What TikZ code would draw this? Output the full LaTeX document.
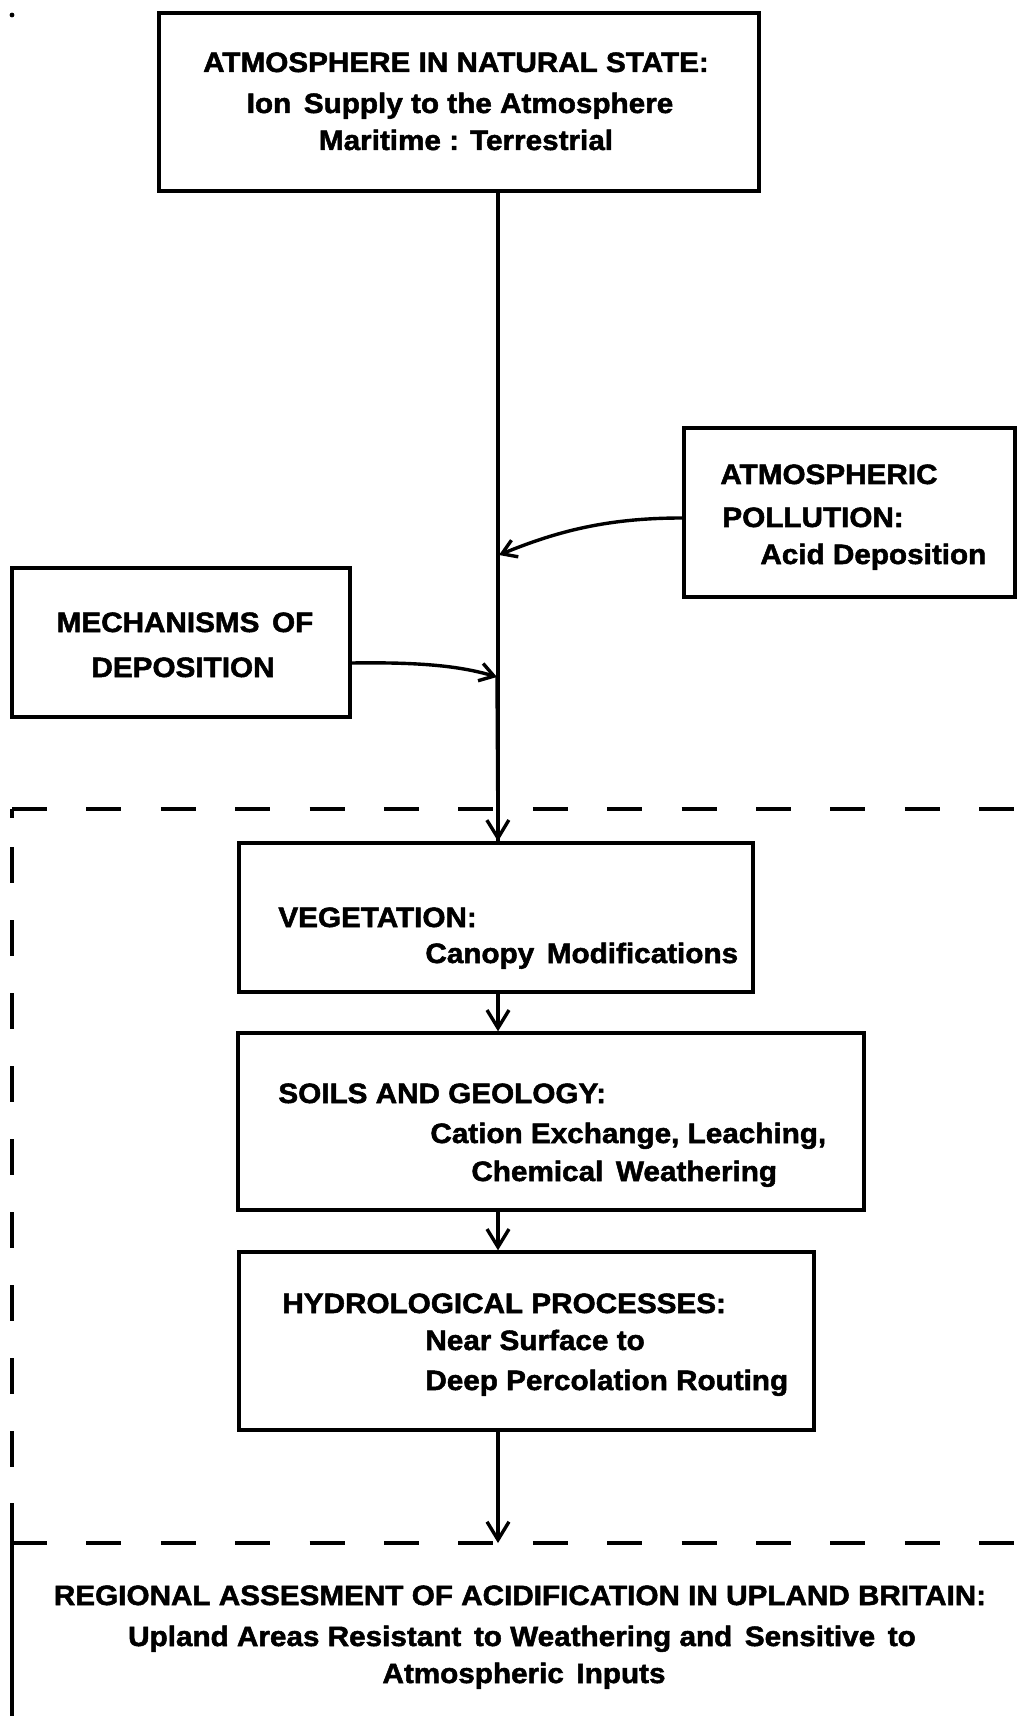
\documentclass[tikz,border=0pt]{standalone}
\usepackage{fontspec}
\newfontfamily\diagfont{Liberation Sans}[FakeStretch=1.06,FakeBold=1.8]
\usetikzlibrary{arrows.meta}
\newcommand{\wsp}{\hspace{0.45em}}
\begin{document}
\begin{tikzpicture}[x=0.5pt,y=-0.5pt,
  box/.style={draw, line width=1.7pt, inner sep=0pt},
  txt/.style={font={\diagfont\bfseries\fontsize{14pt}{16pt}\selectfont}, inner sep=0pt},
  lt/.style={txt, anchor=base west},
  ct/.style={txt, anchor=base},
  arrv/.style={line width=1.7pt, -{Straight Barb[length=9pt,width=11pt,line width=1.7pt]}},
  arrs/.style={line width=1.7pt, -{Straight Barb[length=7pt,width=9pt,line width=1.7pt]}},
  frame/.style={line width=1.7pt},
  dashes/.style={frame, dash pattern=on 17.5pt off 19.7pt}]
\useasboundingbox (0,0) rectangle (1017,1716);
\fill[white] (0,0) rectangle (1017,1716);
% speck
\fill (12,15) circle (1.2pt);
% boxes
\node[box, minimum width=300pt, minimum height=89pt] (top) at (459,102) {};
\node[box, minimum width=165.5pt, minimum height=84.5pt] (poll) at (849.5,512.5) {};
\node[box, minimum width=169pt, minimum height=74.5pt] (mech) at (181,642.5) {};
\node[box, minimum width=257pt, minimum height=74.5pt] (veg) at (496,917.5) {};
\node[box, minimum width=313pt, minimum height=88.5pt] (soils) at (551,1121.5) {};
\node[box, minimum width=287.5pt, minimum height=89pt] (hydro) at (526.5,1341) {};
% texts
\node[ct] (t1) at (456,72) {ATMOSPHERE IN NATURAL STATE:};
\node[ct] (t2) at (460,113) {Ion\wsp Supply to the Atmosphere};
\node[ct] (t3) at (466,150) {Maritime : Terrestrial};
\node[lt] (p1) at (720,484) {ATMOSPHERIC};
\node[lt] (p2) at (722,527) {POLLUTION:};
\node[lt] (p3) at (760,564) {Acid Deposition};
\node[ct] (m1) at (185,632) {MECHANISMS\wsp OF};
\node[ct] (m2) at (183,677) {DEPOSITION};
\node[lt] (v1) at (278,927) {VEGETATION:};
\node[lt] (v2) at (425,963) {Canopy\wsp Modifications};
\node[lt] (s1) at (278,1103) {SOILS AND GEOLOGY:};
\node[lt] (s2) at (430,1143) {Cation Exchange, Leaching,};
\node[lt] (s3) at (471,1181) {Chemical\wsp Weathering};
\node[lt] (h1) at (282,1313) {HYDROLOGICAL PROCESSES:};
\node[lt] (h2) at (425,1350) {Near Surface to};
\node[lt] (h3) at (425,1390) {Deep Percolation Routing};
\node[ct] (r1) at (520,1605) {REGIONAL ASSESMENT OF ACIDIFICATION IN UPLAND BRITAIN:};
\node[ct] (r2) at (522,1646) {Upland Areas Resistant\wsp to Weathering and\wsp Sensitive\wsp to};
\node[ct] (r3) at (524,1683) {Atmospheric\wsp Inputs};
% frame
\draw[dashes] (12,809) -- (1017,809);
\draw[frame] (12,809) -- (12,818);
\draw[frame, dash pattern=on 18pt off 18.5pt] (12,847) -- (12,1503);
\draw[frame] (12,1503) -- (12,1716);
\draw[dashes] (12,1543) -- (1017,1543);
% connectors
\coordinate (mx) at (498,0);
\coordinate (j1) at (499,555);
\coordinate (j2) at (497,677);
\coordinate (lo) at (498,1543);
\draw[line width=1.7pt] (top.south -| mx) -- (veg.north -| mx);
\draw[arrv] (j2) -- (veg.north -| mx);
\draw[arrs] ([yshift=-2.75pt]poll.west) .. controls (610,518) and (560,530) .. (j1);
\draw[arrs] ([yshift=-10.25pt]mech.east) .. controls (420,662) and (460,666) .. (j2);
\draw[arrv] (veg.south -| mx) -- (soils.north -| mx);
\draw[arrv] (soils.south -| mx) -- (hydro.north -| mx);
\draw[arrv] (hydro.south -| mx) -- (lo);
\end{tikzpicture}
\end{document}
